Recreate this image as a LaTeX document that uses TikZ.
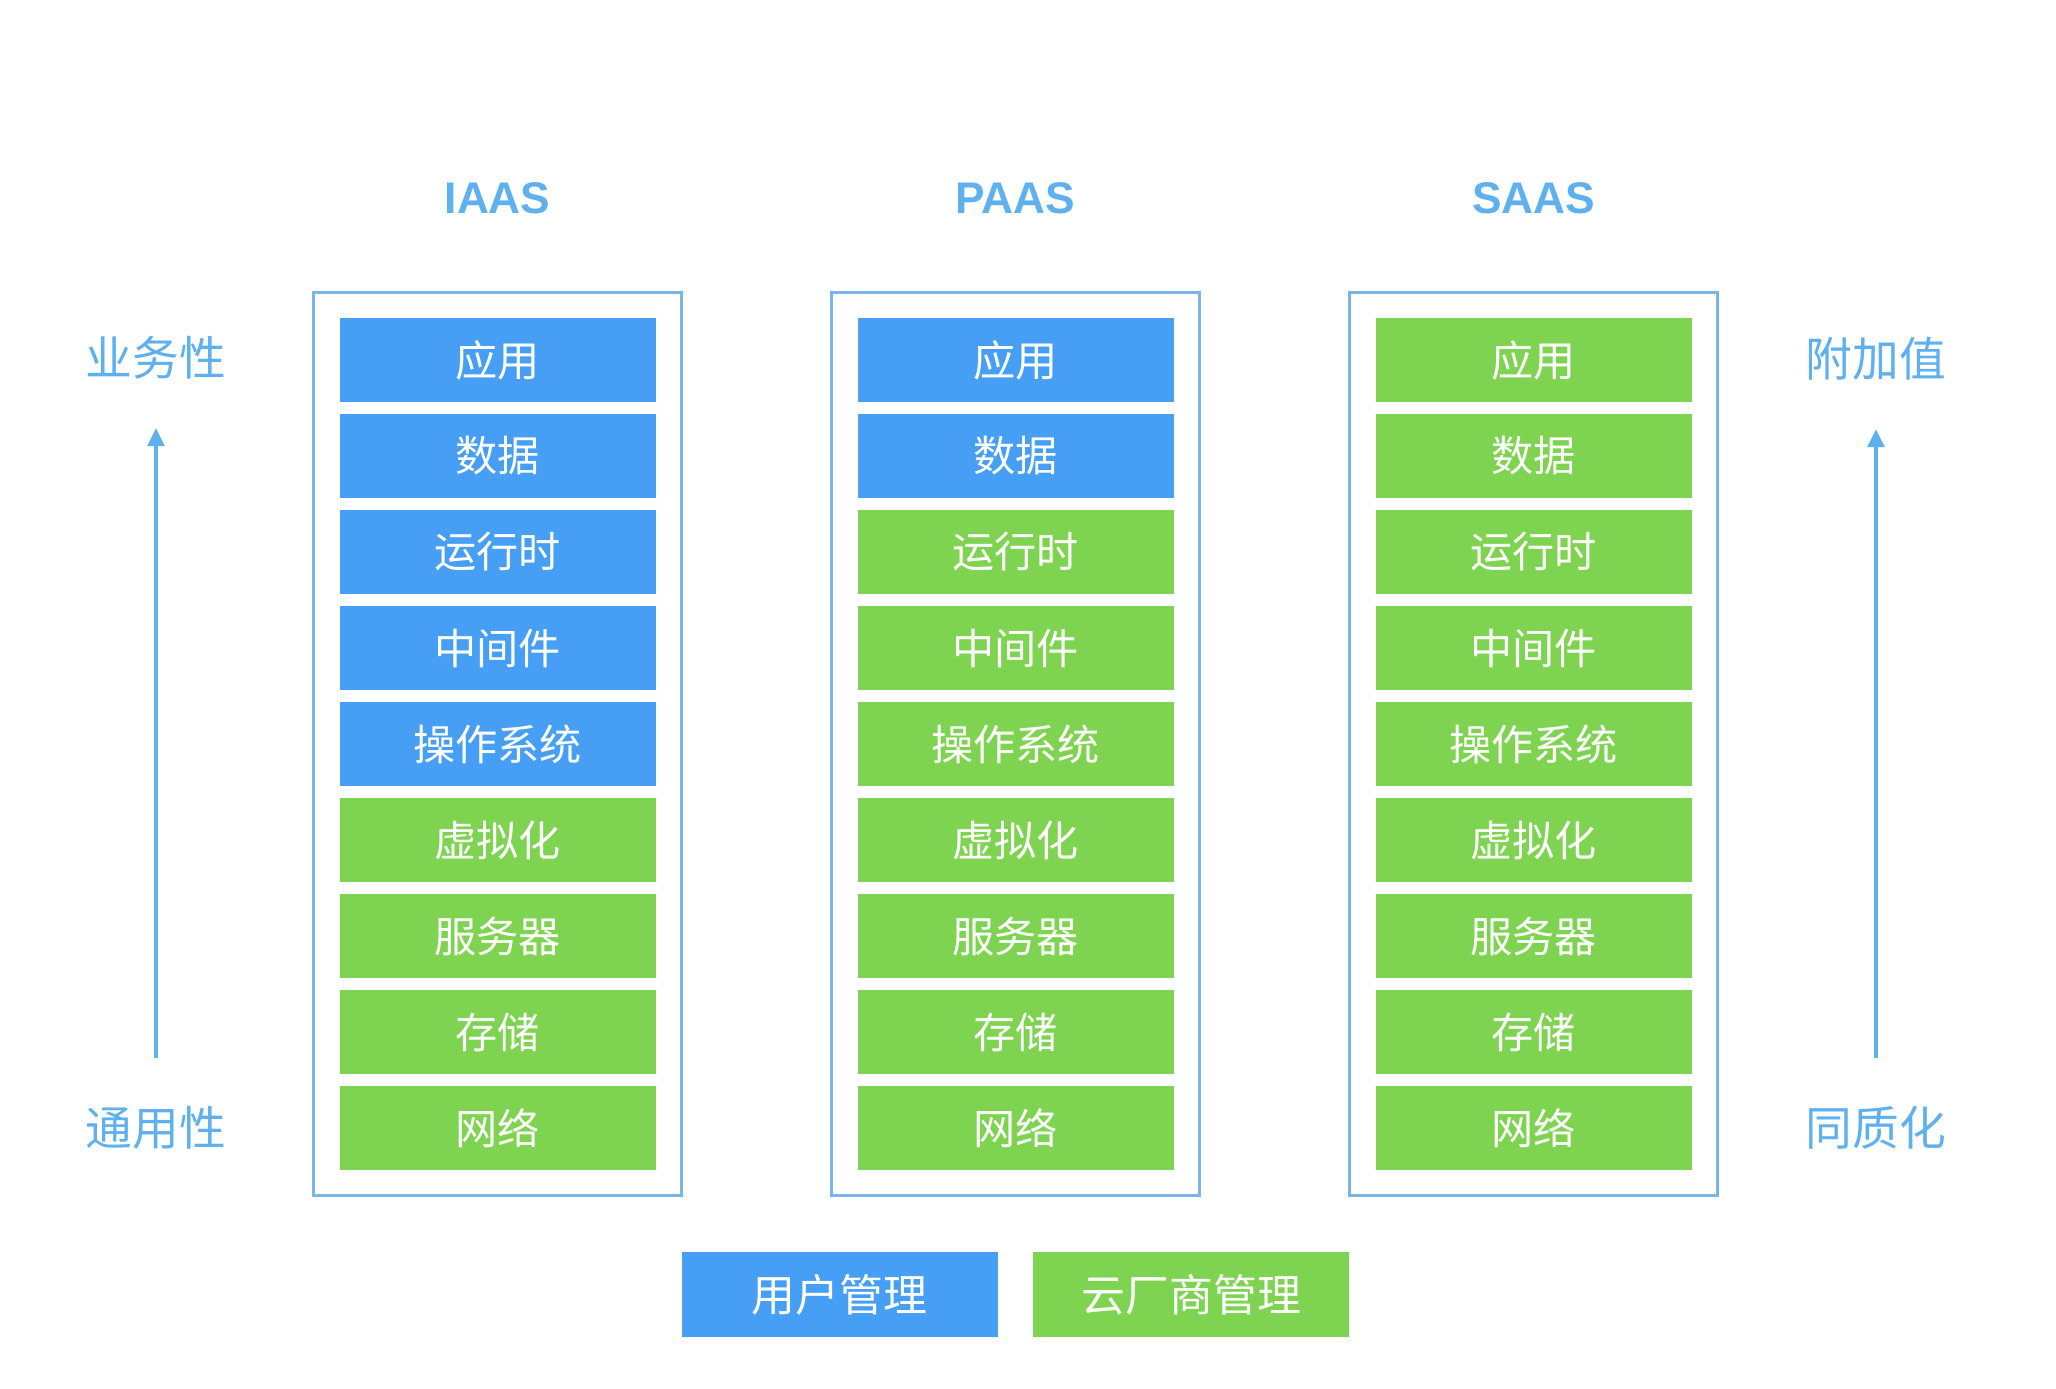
\documentclass[tikz,border=0pt]{standalone}
\usepackage{fontspec}
\setmainfont{Liberation Sans}
\newfontfamily\cjk{Noto Sans CJK SC}
\usetikzlibrary{arrows.meta,positioning,fit}
\definecolor{userblue}{RGB}{70,159,245}
\definecolor{vendorgreen}{RGB}{126,211,81}
\definecolor{labelblue}{RGB}{95,176,238}
\definecolor{frameblue}{RGB}{122,181,234}

\tikzset{
  layer/.style={minimum width=3.16cm, minimum height=0.84cm, inner sep=0pt,
    text=white, font=\cjk\fontsize{12}{12}\selectfont},
  userbox/.style={layer, fill=userblue},
  vendorbox/.style={layer, fill=vendorgreen},
  legendbox/.style={minimum height=0.85cm, font=\cjk\fontsize{12.5}{12.5}\selectfont},
  colframe/.style={draw=frameblue, line width=0.8pt, inner sep=0.25cm},
  coltitle/.style={text=labelblue, font=\bfseries\fontsize{12.6}{12.6}\selectfont},
  sidelabel/.style={text=labelblue, inner sep=0pt, font=\cjk\fontsize{13.3}{13.3}\selectfont},
  updir/.style={draw=labelblue, line width=0.9pt, -{Triangle[length=0.18cm,width=0.17cm]},
    shorten <=0.48cm, shorten >=0.48cm}
}

\begin{document}
\begin{tikzpicture}
  \useasboundingbox (0,0) rectangle (20.56,13.88);
  % Service models: title, layer stack and frame
  \foreach \col/\cx/\nuser/\ttl in {iaas/4.976/5/IAAS, paas/10.155/2/PAAS, saas/15.335/0/SAAS} {
    \node[coltitle] (\col-title) at (\cx,11.90) {\ttl};
    \foreach \i/\txt in {1/应用, 2/数据, 3/运行时, 4/中间件, 5/操作系统, 6/虚拟化, 7/服务器, 8/存储, 9/网络} {
      \ifnum\i>\nuser \def\who{vendorbox}\else\def\who{userbox}\fi
      \node[\who] (\col-\i) at (\cx,11.24-0.96*\i) {\txt};
    }
    \node[colframe, fit=(\col-1)(\col-9)] (\col-frame) {};
  }
  % Side axes
  \node[sidelabel] (biz) at (1.56,10.30) {业务性};
  \node[sidelabel] (generic) at (1.56,2.60) {通用性};
  \node[sidelabel] (value) at (18.76,10.29) {附加值};
  \node[sidelabel] (homog) at (18.76,2.60) {同质化};
  \draw[updir] (generic) -- (biz);
  \draw[updir] (homog) -- (value);
  % Legend
  \node[userbox, legendbox] (user-mgmt) at (8.397,0.936) {用户管理};
  \node[vendorbox, legendbox, right=0.34cm of user-mgmt] (vendor-mgmt) {云厂商管理};
\end{tikzpicture}
\end{document}
